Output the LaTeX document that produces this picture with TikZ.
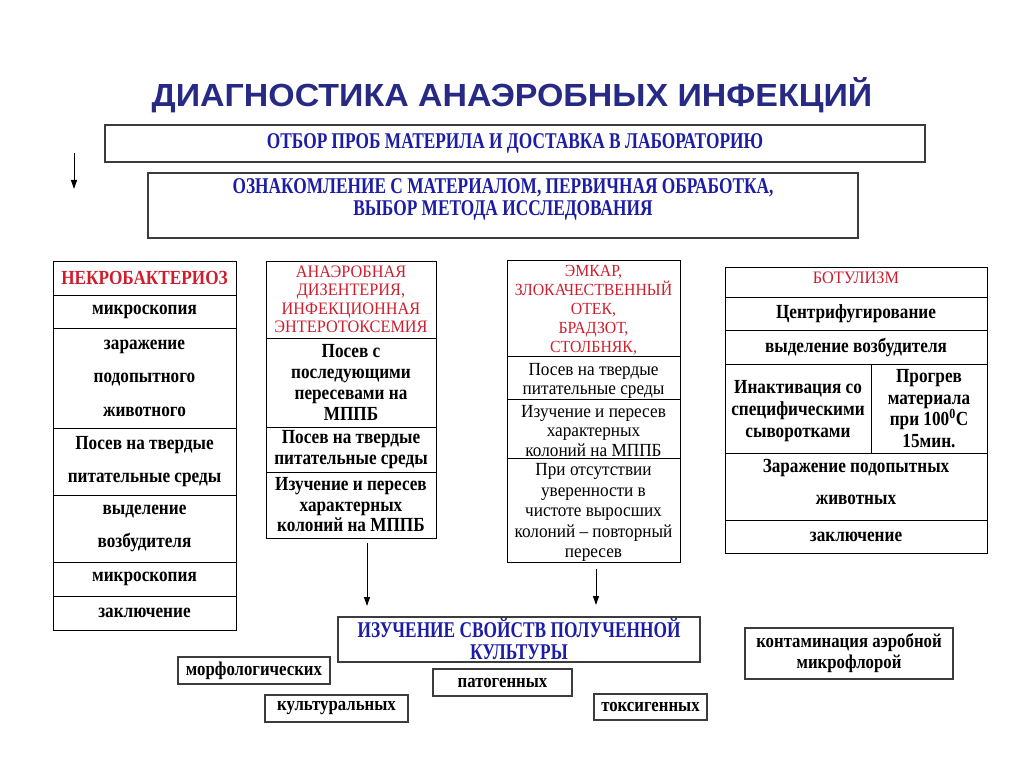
\documentclass[tikz,border=0pt]{standalone}
\usepackage{fontspec}
\setmainfont{Liberation Serif}[FakeStretch=0.86]
\newfontfamily\plainfam{Liberation Serif}[FakeStretch=0.93]
\newfontfamily\narrowfam{Liberation Serif}[FakeStretch=0.77]
\newfontfamily\titlefont{Liberation Sans}[FakeStretch=1.06]
\usetikzlibrary{arrows.meta}

\definecolor{titleblue}{RGB}{38,42,132}
\definecolor{boxblue}{RGB}{28,28,165}
\definecolor{headred}{RGB}{205,30,45}
\definecolor{frame}{RGB}{60,60,60}

\begin{document}
\begin{tikzpicture}
	[x=1pt,y=-1pt,>={Triangle[length=9pt,width=6pt]},
		cell/.style={draw,line width=0.9pt,inner sep=0pt,align=center},
		bold/.style={font=\bfseries\fontsize{20}{#1}\selectfont},
		plain/.style={font=\plainfam\fontsize{18.5}{#1}\selectfont},
		head/.style={text=headred,font=\plainfam\fontsize{17.5}{#1}\selectfont},
		bluebox/.style={draw=frame,line width=1.4pt,inner sep=0pt,align=center,text=boxblue,
			font=\narrowfam\bfseries\fontsize{22.5}{22}\selectfont},
		tagbox/.style={draw=frame,line width=1.4pt,inner sep=0pt,align=center,
			font=\bfseries\fontsize{19.5}{21}\selectfont}]

	\useasboundingbox (0,0) rectangle (1024,767);

	% title and common steps
	\node[text=titleblue,font=\titlefont\bfseries\fontsize{32}{32}\selectfont] (title) at (512,95) {ДИАГНОСТИКА АНАЭРОБНЫХ ИНФЕКЦИЙ};
	\node[bluebox,minimum width=820,minimum height=37] (otbor) at (515,143.5) {ОТБОР ПРОБ МАТЕРИЛА И ДОСТАВКА В ЛАБОРАТОРИЮ};
	\node[bluebox,minimum width=710,minimum height=65,text depth=16] (oznak) at (503,205.5) {ОЗНАКОМЛЕНИЕ С МАТЕРИАЛОМ, ПЕРВИЧНАЯ ОБРАБОТКА,\\ВЫБОР МЕТОДА ИССЛЕДОВАНИЯ};
	\coordinate (s0) at (74,153);
	\coordinate (s1) at (74,189);
	\draw[->,line width=1pt] (s0) -- (s1);

	% column 1
	\node[cell,bold=21,text=headred,minimum width=183,minimum height=34] (nekro) at (144.5,278) {НЕКРОБАКТЕРИОЗ};
	\node[cell,bold=21,minimum width=183,minimum height=33] (mikro1) at (144.5,311.5) {микроскопия};
	\node[cell,bold=33.5,minimum width=183,minimum height=100] (zaraz1) at (144.5,378) {заражение\\подопытного\\животного};
	\node[cell,bold=33,minimum width=183,minimum height=67] (posev1) at (144.5,461.5) {Посев на твердые\\питательные среды};
	\node[cell,bold=33,minimum width=183,minimum height=67] (vydel1) at (144.5,528.5) {выделение\\возбудителя};
	\node[cell,bold=21,minimum width=183,minimum height=34] (mikro2) at (144.5,579) {микроскопия};
	\node[cell,bold=21,minimum width=183,minimum height=34] (zakl1) at (144.5,613) {заключение};

	% column 2
	\node[cell,head=18.5,minimum width=170,minimum height=77] (dizen) at (351,299.5) {АНАЭРОБНАЯ\\ДИЗЕНТЕРИЯ,\\ИНФЕКЦИОННАЯ\\ЭНТЕРОТОКСЕМИЯ};
	\node[cell,bold=21,minimum width=170,minimum height=89] (posev2) at (351,382.5) {Посев с\\последующими\\пересевами на\\МППБ};
	\node[cell,bold=21,minimum width=170,minimum height=45] (posev3) at (351,449.5) {Посев на твердые\\питательные среды};
	\node[cell,bold=20.5,minimum width=170,minimum height=66] (izuch2) at (351,505) {Изучение и пересев\\характерных\\колоний на МППБ};

	% column 3
	\node[cell,head=19,font=\plainfam\fontsize{17}{19}\selectfont,text height=91,minimum width=173,minimum height=96] (emkar) at (593.5,308) {ЭМКАР,\\ЗЛОКАЧЕСТВЕННЫЙ\\ОТЕК,\\БРАДЗОТ,\\СТОЛБНЯК,};
	\node[cell,plain=19.5,text height=38,minimum width=173,minimum height=43] (posev4) at (593.5,377.5) {Посев на твердые\\питательные среды};
	\node[cell,plain=19.5,text height=56,minimum width=173,minimum height=59] (izuch3) at (593.5,428.5) {Изучение и пересев\\характерных\\колоний на МППБ};
	\node[cell,plain=20.5,text height=99.5,minimum width=173,minimum height=104] (pri) at (593.5,510) {При отсутствии\\уверенности в\\чистоте выросших\\колоний – повторный\\пересев};

	% column 4
	\node[cell,head=19,text depth=8,minimum width=262,minimum height=30] (botul) at (856,282) {БОТУЛИЗМ};
	\node[cell,bold=21,minimum width=262,minimum height=33] (centr) at (856,313.5) {Центрифугирование};
	\node[cell,bold=21,minimum width=262,minimum height=34] (vydel4) at (856,347) {выделение возбудителя};
	\node[cell,bold=22,text height=63,minimum width=146,minimum height=89] (inakt) at (798,408.5) {Инактивация со\\специфическими\\сыворотками};
	\node[cell,bold=21.5,minimum width=116,minimum height=89] (progr) at (929,408.5) {Прогрев\\материала\\при 100\textsuperscript{0}С\\15мин.};
	\node[cell,bold=32,text depth=10,minimum width=262,minimum height=67] (zaraz4) at (856,486.5) {Заражение подопытных\\животных};
	\node[cell,bold=21,minimum width=262,minimum height=33] (zakl4) at (856,536.5) {заключение};

	% culture study
	\node[bluebox,minimum width=362,minimum height=45] (svoist) at (519,639.5) {ИЗУЧЕНИЕ СВОЙСТВ ПОЛУЧЕННОЙ\\КУЛЬТУРЫ};
	\coordinate (t1) at (367,606);
	\coordinate (t2) at (596,605);
	\draw[->,line width=1pt] ([xshift=16pt,yshift=-5pt]izuch2.south) -- (t1);
	\draw[->,line width=1pt] ([xshift=2.5pt,yshift=-7pt]pri.south) -- (t2);

	\node[tagbox,minimum width=152,minimum height=27] (morf) at (254,670.5) {морфологических};
	\node[tagbox,minimum width=143,minimum height=27] (kult) at (336.5,708.5) {культуральных};
	\node[tagbox,minimum width=139,minimum height=27] (patog) at (502.5,682.5) {патогенных};
	\node[tagbox,minimum width=113,minimum height=26] (toks) at (650.5,707) {токсигенных};
	\node[tagbox,minimum width=208,minimum height=51] (konta) at (849,653.5) {контаминация аэробной\\микрофлорой};
\end{tikzpicture}
\end{document}
